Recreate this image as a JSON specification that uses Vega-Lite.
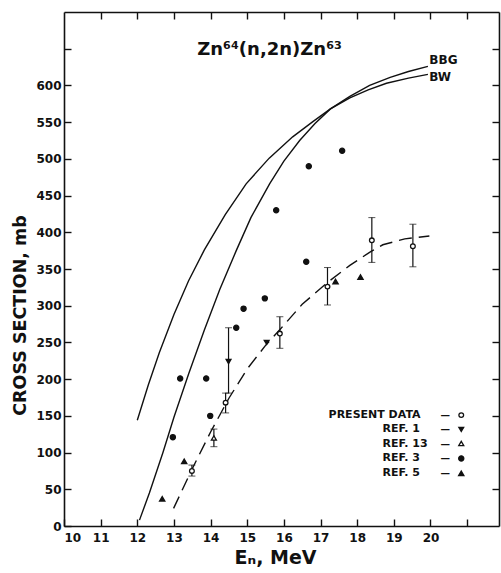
{
  "$schema": "https://vega.github.io/schema/vega-lite/v6.json",
  "width": 435,
  "height": 514,
  "autosize": {"type": "none"},
  "padding": {"left": 64, "top": 12, "right": 2, "bottom": 47},
  "background": "white",
  "config": {
    "view": {"stroke": null},
    "font": "DejaVu Sans",
    "axis": {
      "domainColor": "#111",
      "domainWidth": 1.6,
      "tickColor": "#111",
      "tickWidth": 1.4,
      "tickSize": -7,
      "grid": false,
      "labelFont": "DejaVu Sans",
      "labelFontSize": 12,
      "labelFontWeight": "bold",
      "labelColor": "#111",
      "titleFont": "DejaVu Sans",
      "titleFontSize": 18,
      "titleFontWeight": "bold",
      "titleColor": "#111"
    }
  },
  "datasets": {
    "curves": [
      {"model": "BBG", "e": 12.0, "s": 144},
      {"model": "BBG", "e": 12.3, "s": 192},
      {"model": "BBG", "e": 12.6, "s": 236},
      {"model": "BBG", "e": 13.0, "s": 288},
      {"model": "BBG", "e": 13.4, "s": 334},
      {"model": "BBG", "e": 13.83, "s": 376},
      {"model": "BBG", "e": 14.4, "s": 424},
      {"model": "BBG", "e": 14.97, "s": 466},
      {"model": "BBG", "e": 15.6, "s": 501},
      {"model": "BBG", "e": 16.24, "s": 530},
      {"model": "BBG", "e": 16.8, "s": 551},
      {"model": "BBG", "e": 17.27, "s": 568},
      {"model": "BBG", "e": 17.8, "s": 585},
      {"model": "BBG", "e": 18.34, "s": 600},
      {"model": "BBG", "e": 18.9, "s": 611},
      {"model": "BBG", "e": 19.4, "s": 619},
      {"model": "BBG", "e": 19.93, "s": 626},
      {"model": "BW", "e": 12.06, "s": 8},
      {"model": "BW", "e": 12.33, "s": 45},
      {"model": "BW", "e": 12.7, "s": 100},
      {"model": "BW", "e": 13.0, "s": 148},
      {"model": "BW", "e": 13.4, "s": 207},
      {"model": "BW", "e": 13.83, "s": 267},
      {"model": "BW", "e": 14.25, "s": 322},
      {"model": "BW", "e": 14.7, "s": 375},
      {"model": "BW", "e": 15.1, "s": 420},
      {"model": "BW", "e": 15.61, "s": 466},
      {"model": "BW", "e": 16.0, "s": 497},
      {"model": "BW", "e": 16.43, "s": 525},
      {"model": "BW", "e": 16.85, "s": 548},
      {"model": "BW", "e": 17.27, "s": 568},
      {"model": "BW", "e": 17.8, "s": 583},
      {"model": "BW", "e": 18.3, "s": 594},
      {"model": "BW", "e": 18.8, "s": 603},
      {"model": "BW", "e": 19.4, "s": 610},
      {"model": "BW", "e": 19.93, "s": 615}
    ],
    "fit": [
      {"e": 12.99, "s": 24},
      {"e": 13.5, "s": 78},
      {"e": 14.0, "s": 128},
      {"e": 14.5, "s": 174},
      {"e": 15.0, "s": 214},
      {"e": 15.5, "s": 246},
      {"e": 15.9, "s": 268},
      {"e": 16.5, "s": 302},
      {"e": 17.2, "s": 332},
      {"e": 17.8, "s": 355},
      {"e": 18.38, "s": 374},
      {"e": 18.7, "s": 383},
      {"e": 19.3, "s": 391},
      {"e": 19.97, "s": 395}
    ],
    "errs": [
      {"e": 13.49, "lo": 68, "hi": 83},
      {"e": 14.41, "lo": 154, "hi": 181},
      {"e": 15.89, "lo": 242, "hi": 285},
      {"e": 17.19, "lo": 301, "hi": 352},
      {"e": 18.4, "lo": 359, "hi": 420},
      {"e": 19.52, "lo": 353, "hi": 411},
      {"e": 14.49, "lo": 181, "hi": 270},
      {"e": 14.09, "lo": 108, "hi": 132}
    ],
    "pts": [
      {"ref": "present", "e": 13.49, "s": 75},
      {"ref": "present", "e": 14.41, "s": 168},
      {"ref": "present", "e": 15.89, "s": 262},
      {"ref": "present", "e": 17.19, "s": 326},
      {"ref": "present", "e": 18.4, "s": 389},
      {"ref": "present", "e": 19.52, "s": 381},
      {"ref": "ref1", "e": 14.49, "s": 224},
      {"ref": "ref1", "e": 15.53, "s": 250},
      {"ref": "ref13", "e": 14.09, "s": 120},
      {"ref": "ref3", "e": 12.97, "s": 121},
      {"ref": "ref3", "e": 13.17, "s": 201},
      {"ref": "ref3", "e": 13.88, "s": 201},
      {"ref": "ref3", "e": 13.99, "s": 150},
      {"ref": "ref3", "e": 14.7, "s": 270},
      {"ref": "ref3", "e": 14.9, "s": 296},
      {"ref": "ref3", "e": 15.48, "s": 310},
      {"ref": "ref3", "e": 15.79, "s": 430},
      {"ref": "ref3", "e": 16.61, "s": 360},
      {"ref": "ref3", "e": 16.68, "s": 490},
      {"ref": "ref3", "e": 17.59, "s": 511},
      {"ref": "ref5", "e": 12.68, "s": 37},
      {"ref": "ref5", "e": 13.28, "s": 88},
      {"ref": "ref5", "e": 17.41, "s": 333},
      {"ref": "ref5", "e": 18.09, "s": 339}
    ],
    "legend": [
      {"ref": "present", "label": "PRESENT DATA", "lx": 17.22, "s": 151},
      {"ref": "ref1", "label": "REF. 1", "lx": 18.69, "s": 131.5},
      {"ref": "ref13", "label": "REF. 13", "lx": 18.69, "s": 112.3},
      {"ref": "ref3", "label": "REF. 3", "lx": 18.69, "s": 92},
      {"ref": "ref5", "label": "REF. 5", "lx": 18.69, "s": 71.7}
    ],
    "notes": [
      {"text": "Zn⁶⁴(n,2n)Zn⁶³", "e": 15.61, "s": 642, "kind": "title"},
      {"text": "BBG", "e": 19.97, "s": 635, "kind": "curve"},
      {"text": "BW", "e": 19.97, "s": 612, "kind": "curve"}
    ]
  },
  "resolve": {"axis": {"x": "independent", "y": "independent"}},
  "layer": [
    {
      "data": {"name": "curves"},
      "mark": {"type": "line", "color": "#111", "strokeWidth": 1.4},
      "encoding": {
        "x": {
          "field": "e", "type": "quantitative",
          "scale": {"domain": [10, 21.87], "nice": false, "zero": false},
          "axis": {
            "orient": "bottom",
            "values": [10, 11, 12, 13, 14, 15, 16, 17, 18, 19, 20, 21],
            "labelExpr": "datum.value > 20.5 ? '' : datum.label",
            "labelPadding": 13,
            "title": "Eₙ, MeV",
            "titleFontSize": 19,
            "titleX": 211,
            "titleY": 37,
            "titleBaseline": "alphabetic",
            "titleAnchor": null
          }
        },
        "y": {
          "field": "s", "type": "quantitative",
          "scale": {"domain": [0, 700], "nice": false},
          "axis": {
            "orient": "left",
            "values": [0, 50, 100, 150, 200, 250, 300, 350, 400, 450, 500, 550, 600, 650],
            "labelExpr": "datum.value > 620 ? '' : datum.label",
            "labelPadding": 10,
            "title": "CROSS SECTION, mb",
            "titleFontSize": 17.5,
            "titleX": -44,
            "titleY": 303,
            "titleAlign": "center",
            "titleBaseline": "middle",
            "titleAngle": -90
          }
        },
        "detail": {"field": "model"}
      }
    },
    {
      "data": {"name": "fit"},
      "mark": {"type": "line", "color": "#111", "strokeWidth": 1.4, "strokeDash": [13, 7]},
      "encoding": {
        "x": {
          "field": "e", "type": "quantitative",
          "axis": {
            "orient": "top",
            "values": [11, 12, 13, 14, 15, 16, 17, 18, 19, 20, 21],
            "labels": false,
            "title": null
          }
        },
        "y": {
          "field": "s", "type": "quantitative",
          "axis": {
            "orient": "right",
            "values": [50, 100, 150, 200, 250, 300, 350, 400, 450, 500, 550, 600, 650],
            "labels": false,
            "title": null
          }
        }
      }
    },
    {
      "data": {"name": "errs"},
      "mark": {"type": "errorbar", "ticks": {"size": 7, "color": "#111", "strokeWidth": 1.2}, "rule": {"color": "#111", "strokeWidth": 1.2}},
      "encoding": {
        "x": {"field": "e", "type": "quantitative", "axis": null},
        "y": {"field": "lo", "type": "quantitative", "axis": null},
        "y2": {"field": "hi"}
      }
    },
    {
      "data": {"name": "pts"},
      "mark": {"type": "point", "stroke": "#111", "strokeWidth": 1.3, "opacity": 1},
      "encoding": {
        "x": {"field": "e", "type": "quantitative", "axis": null},
        "y": {"field": "s", "type": "quantitative", "axis": null},
        "shape": {"field": "ref", "type": "nominal", "legend": null,
          "scale": {"domain": ["present", "ref1", "ref13", "ref3", "ref5"], "range": ["circle", "triangle-down", "triangle-up", "circle", "triangle-up"]}},
        "fill": {"field": "ref", "type": "nominal", "legend": null,
          "scale": {"domain": ["present", "ref1", "ref13", "ref3", "ref5"], "range": ["white", "#111", "white", "#111", "#111"]}},
        "size": {"field": "ref", "type": "nominal", "legend": null,
          "scale": {"domain": ["present", "ref1", "ref13", "ref3", "ref5"], "range": [22, 28, 55, 32, 30]}}
      }
    },
    {
      "data": {"name": "legend"},
      "mark": {"type": "text", "align": "left", "baseline": "middle", "fontSize": 11, "fontWeight": "bold", "color": "#111"},
      "encoding": {
        "x": {"field": "lx", "type": "quantitative", "axis": null},
        "y": {"field": "s", "type": "quantitative", "axis": null},
        "text": {"field": "label"}
      }
    },
    {
      "data": {"name": "legend"},
      "mark": {"type": "text", "align": "center", "baseline": "middle", "fontSize": 9.5, "fontWeight": "bold", "color": "#111"},
      "encoding": {
        "x": {"datum": 20.4, "type": "quantitative", "axis": null},
        "y": {"field": "s", "type": "quantitative", "axis": null},
        "text": {"value": "—"}
      }
    },
    {
      "data": {"name": "legend"},
      "mark": {"type": "point", "stroke": "#111", "strokeWidth": 1.3, "opacity": 1},
      "encoding": {
        "x": {"datum": 20.84, "type": "quantitative", "axis": null},
        "y": {"field": "s", "type": "quantitative", "axis": null},
        "shape": {"field": "ref", "type": "nominal", "legend": null},
        "fill": {"field": "ref", "type": "nominal", "legend": null},
        "size": {"field": "ref", "type": "nominal", "legend": null}
      }
    },
    {
      "data": {"name": "notes"},
      "transform": [{"filter": "datum.kind == 'title'"}],
      "mark": {"type": "text", "align": "center", "baseline": "alphabetic", "fontSize": 18, "fontWeight": "bold", "color": "#111"},
      "encoding": {
        "x": {"field": "e", "type": "quantitative", "axis": null},
        "y": {"field": "s", "type": "quantitative", "axis": null},
        "text": {"field": "text"}
      }
    },
    {
      "data": {"name": "notes"},
      "transform": [{"filter": "datum.kind == 'curve'"}],
      "mark": {"type": "text", "align": "left", "baseline": "middle", "fontSize": 12, "fontWeight": "bold", "color": "#111"},
      "encoding": {
        "x": {"field": "e", "type": "quantitative", "axis": null},
        "y": {"field": "s", "type": "quantitative", "axis": null},
        "text": {"field": "text"}
      }
    }
  ]
}
